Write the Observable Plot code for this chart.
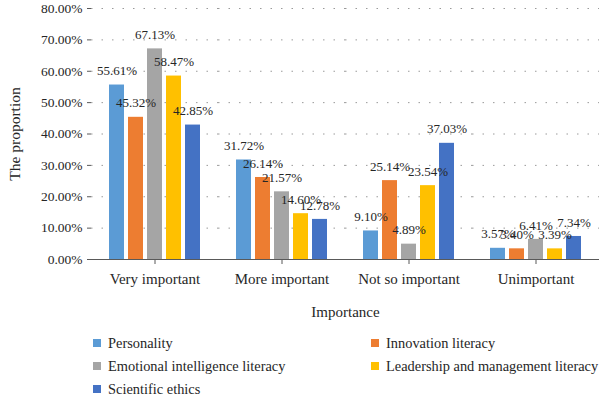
<!DOCTYPE html>
<html>
<head>
<meta charset="utf-8">
<script src="https://cdn.jsdelivr.net/npm/d3@7"></script>
<script src="https://cdn.jsdelivr.net/npm/@observablehq/plot@0.6"></script>
<style>
  html, body { margin: 0; padding: 0; background: #fff; }
  #wrap { position: relative; width: 600px; height: 398px; font-family: 'Liberation Serif', 'Times New Roman', serif; color: #262626; }
  #wrap svg, #wrap svg text { font-family: 'Liberation Serif', 'Times New Roman', serif !important; }
  .leg { position: absolute; font-size: 14.4px; line-height: 16px; white-space: nowrap; font-family: 'Liberation Serif', 'Times New Roman', serif; }
  .leg span.sw { position: absolute; left: 0; top: 4px; width: 8px; height: 8px; }
  .leg span.tx { position: absolute; left: 15px; top: 0; }
</style>
</head>
<body>
<div id="wrap"></div>
<script>
const categories = ["Very important", "More important", "Not so important", "Unimportant"];
const series = ["Personality", "Innovation literacy", "Emotional intelligence literacy", "Leadership and management literacy", "Scientific ethics"];
const colors = ["#5B9BD5", "#ED7D31", "#A5A5A5", "#FFC000", "#4472C4"];
const personality = [55.61, 31.72, 9.10, 3.57];
const innovation = [45.32, 26.14, 25.14, 3.40];
const emotional = [67.13, 21.57, 4.89, 6.41];
const leadership = [58.47, 14.60, 23.54, 3.39];
const ethics = [42.85, 12.78, 37.03, 7.34];
const yTicks = [0, 10, 20, 30, 40, 50, 60, 70, 80];
const yTitle = "The proportion";
const xTitle = "Importance";

const seriesValues = [personality, innovation, emotional, leadership, ethics];
const data = [];
categories.forEach((c, i) => {
  series.forEach((s, j) => {
    data.push({category: c, series: s, value: seriesValues[j][i]});
  });
});

const font = "'Liberation Serif', 'Times New Roman', serif";
const chart = Plot.plot({
  width: 600,
  height: 325,
  marginLeft: 90,
  marginRight: 0,
  marginTop: 8,
  marginBottom: 66,
  style: {fontFamily: font, color: "#262626", background: "#fff"},
  fx: {domain: categories, padding: 0, label: null},
  x: {domain: series, axis: null, paddingInner: 0.2, paddingOuter: 0.87},
  y: {domain: [0, 80]},
  color: {domain: series, range: colors},
  marks: [
    Plot.gridY(yTicks.filter(d => d > 0), {stroke: "#9a9a9a", strokeOpacity: 1, strokeDasharray: "1.5,9", strokeWidth: 1}),
    Plot.barY(data, {fx: "category", x: "series", y: "value", fill: "series"}),
    Plot.text(data, {fx: "category", x: "series", y: "value", text: d => d.value.toFixed(2) + "%", dy: -14, fontSize: 13, fill: "#262626", fontFamily: font}),
    Plot.axisY({ticks: yTicks, tickFormat: d => d.toFixed(2) + "%", tickSize: 4, tickPadding: 5, fontSize: 13.5, stroke: "#595959", fontFamily: font, label: null}),
    Plot.text([{fx: categories[0], t: yTitle}], {fx: "fx", text: "t", frameAnchor: "left", textAnchor: "middle", rotate: -90, dx: -76, fontSize: 15.5, fill: "#262626", fontFamily: font}),
    Plot.ruleX([0], {frameAnchor: "left", stroke: "#595959"}),
    Plot.axisFx({anchor: "bottom", tickSize: 5, tickPadding: 9, fontSize: 15, stroke: "#595959", fontFamily: font, label: xTitle, labelAnchor: "center", labelOffset: 57, labelArrow: "none"}),
    Plot.ruleY([0], {stroke: "#595959"})
  ]
});
const wrap = document.getElementById("wrap");
wrap.appendChild(chart);

// legend
const legPos = [[93, 335], [371, 335], [93, 358], [371, 358], [93, 381]];
series.forEach((s, i) => {
  const d = document.createElement("div");
  d.className = "leg";
  d.style.left = legPos[i][0] + "px";
  d.style.top = legPos[i][1] + "px";
  d.innerHTML = `<span class="sw" style="background:${colors[i]}"></span><span class="tx">${s}</span>`;
  wrap.appendChild(d);
});
</script>
</body>
</html>
